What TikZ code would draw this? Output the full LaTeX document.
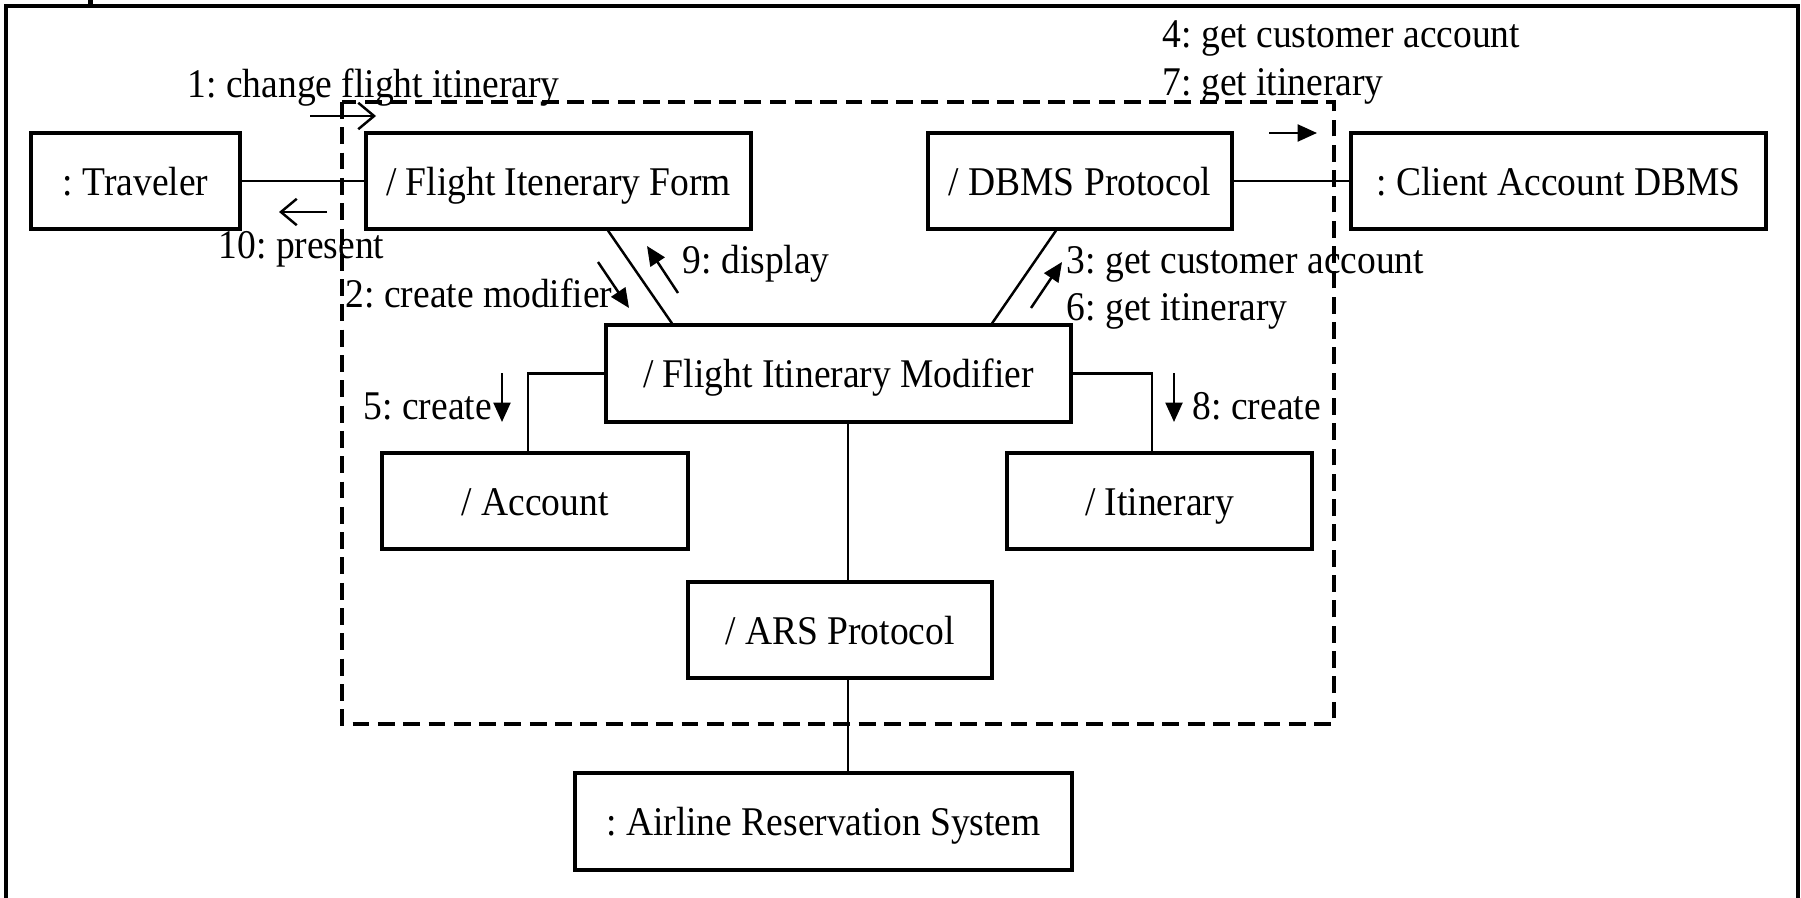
\documentclass[tikz,border=0pt]{standalone}
\usepackage{fontspec}
\setmainfont{Liberation Serif}[FakeStretch=0.92]
\usetikzlibrary{arrows.meta}

\begin{document}
\frenchspacing
\begin{tikzpicture}[
  font=\fontsize{11.6pt}{13.6pt}\selectfont,
  obj/.style={draw=black, line width=0.9pt, minimum height=0.96cm, inner sep=0pt,
    text height=10.3pt, text depth=2.2pt},
  link/.style={draw=black, line width=0.7pt},
  bound/.style={draw=black, line width=1.1pt, dash pattern=on 4.8pt off 2.4pt},
  msg/.style={-{Triangle[length=5.5pt,width=4.8pt]}, line width=0.7pt},
  omsg/.style={-{Straight Barb[length=4.5pt,width=7.5pt]}, line width=0.7pt},
  lbl/.style={anchor=base west, inner sep=0pt}
]
\useasboundingbox (0,0) rectangle (18.01,-8.98);
\draw[line width=1pt] (0.06,-0.06) rectangle (17.98,-9.3);
\fill (0.88,0) rectangle (0.93,-0.05);
\draw[bound] (3.42,-1.02) rectangle (13.34,-7.24);

% objects
\node[obj, minimum width=2.09cm] (trav) at (1.355,-1.81) {: Traveler};
\node[obj, minimum width=3.85cm] (form) at (5.585,-1.81) {/ Flight Itenerary Form};
\node[obj, minimum width=3.04cm] (dbms) at (10.80,-1.81) {/ DBMS Protocol};
\node[obj, minimum width=4.15cm] (client) at (15.585,-1.81) {: Client Account DBMS};
\node[obj, minimum width=4.65cm, minimum height=0.97cm] (modif) at (8.385,-3.735) {/ Flight Itinerary Modifier};
\node[obj, minimum width=3.06cm] (acct) at (5.35,-5.01) {/ Account};
\node[obj, minimum width=3.05cm] (itin) at (11.595,-5.01) {/ Itinerary};
\node[obj, minimum width=3.04cm] (arsp) at (8.40,-6.30) {/ ARS Protocol};
\node[obj, minimum width=4.97cm, minimum height=0.97cm] (ars) at (8.235,-8.215) {: Airline Reservation System};

% links
\coordinate (spine) at (8.48,0);
\draw[link] (trav) -- (form);
\draw[link] (dbms) -- (client);
\draw[link] ([xshift=0.495cm]form.south) -- ([xshift=-1.665cm]modif.north);
\draw[link] ([xshift=-0.24cm]dbms.south) -- ([xshift=1.535cm]modif.north);
\draw[link] (modif.west) -| ([xshift=-0.07cm]acct.north);
\draw[link] (modif.east) -| ([xshift=-0.075cm]itin.north);
\draw[link] (spine |- modif.south) -- (spine |- arsp.north);
\draw[link] (spine |- arsp.south) -- (spine |- ars.north);

% messages
\node[lbl] (m1) at (1.87,-0.98) {1: change flight itinerary};
\draw[omsg] (3.10,-1.16) -- (3.76,-1.16);
\node[lbl] (m10) at (2.18,-2.58) {10: present};
\draw[omsg] (3.27,-2.12) -- (2.79,-2.12);
\node[lbl] (m2) at (3.45,-3.07) {2: create modifier};
\draw[msg] (5.98,-2.62) -- (6.29,-3.08);
\node[lbl] (m9) at (6.82,-2.73) {9: display};
\draw[msg] (6.78,-2.93) -- (6.47,-2.46);
\node[lbl] (m3) at (10.66,-2.73) {3: get customer account};
\node[lbl] (m6) at (10.66,-3.20) {6: get itinerary};
\draw[msg] (10.31,-3.08) -- (10.62,-2.62);
\node[lbl] (m4) at (11.62,-0.48) {4: get customer account};
\node[lbl] (m7) at (11.62,-0.96) {7: get itinerary};
\draw[msg] (12.69,-1.33) -- (13.17,-1.33);
\node[lbl] (m5) at (3.63,-4.19) {5: create};
\draw[msg] (5.02,-3.73) -- (5.02,-4.22);
\node[lbl] (m8) at (11.92,-4.19) {8: create};
\draw[msg] (11.74,-3.73) -- (11.74,-4.22);
\end{tikzpicture}
\end{document}
